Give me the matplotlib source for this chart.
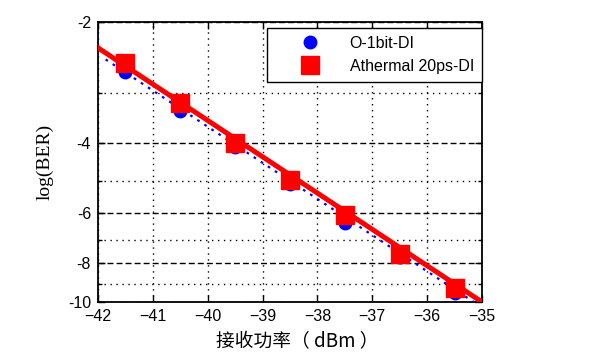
import matplotlib
matplotlib.use("Agg")
import matplotlib.pyplot as plt
import numpy as np
from matplotlib.ticker import FixedLocator, NullFormatter

# received power (dBm) and log10(BER)
power = [-41.5, -40.5, -39.5, -38.5, -37.5, -36.5, -35.5]
ber_obit = [-2.67, -3.33, -4.11, -5.08, -6.35, -7.70, -9.50]
ber_athermal = [-2.53, -3.19, -4.00, -4.97, -6.08, -7.59, -9.20]

# end points of the two fitted lines
fit_obit_x = [-41.86, -35.15]
fit_obit_y = [-2.48, -10.0]
fit_athermal_x = [-42.0, -35.0]
fit_athermal_y = [-2.32, -10.0]

x_ticks = [-42, -41, -40, -39, -38, -37, -36, -35]
y_major = [-10, -8, -6, -4, -2]
y_minor = [-9, -7, -5, -3]


def fwd(y):
    y = np.asarray(y, dtype=float)
    with np.errstate(divide="ignore", invalid="ignore"):
        return -np.log10(-y)


def inv(t):
    t = np.asarray(t, dtype=float)
    return -(10.0 ** (-t))


plt.rcParams["font.family"] = ["Liberation Sans", "DejaVu Sans"]

fig = plt.figure(figsize=(6.0, 3.58), dpi=100)
ax = fig.add_axes([0.1633, 0.1564, 0.64, 0.7821])
ax.set_yscale("function", functions=(fwd, inv))

ax.plot(power, ber_obit, "o", color="blue", markersize=9, zorder=3,
        label="O-1bit-DI")
ax.plot(fit_obit_x, fit_obit_y, color="blue", lw=1.6, linestyle=(0, (1.2, 2.6)),
        zorder=3)
ax.plot(power, ber_athermal, "s", color="red", markersize=12.5, zorder=4,
        label="Athermal 20ps-DI")
ax.plot(fit_athermal_x, fit_athermal_y, color="red", lw=3.6, zorder=4)

ax.set_xlim(-42, -35)
ax.set_ylim(-10, -2)

ax.xaxis.set_major_locator(FixedLocator(x_ticks))
ax.yaxis.set_major_locator(FixedLocator(y_major))
ax.yaxis.set_minor_locator(FixedLocator(y_minor))
ax.yaxis.set_minor_formatter(NullFormatter())
ax.set_yticklabels([str(v) for v in y_major])

ax.tick_params(which="both", direction="in", top=True, right=True,
               labelsize=11.5, length=5, width=1, pad=5)
ax.tick_params(which="minor", length=3)

ax.grid(axis="x", which="major", color="black", lw=1, linestyle=(0, (1, 3.3)))
ax.grid(axis="y", which="major", color="black", lw=1, linestyle=(0, (4.3, 2.2)))
ax.grid(axis="y", which="minor", color="black", lw=1, linestyle=(0, (1, 3.3)))
ax.set_axisbelow(True)

for spine in ax.spines.values():
    spine.set_linewidth(1.3)

ax.set_ylabel("log(BER)", family=["Liberation Serif", "DejaVu Serif"],
              fontsize=14, labelpad=10)
ax.set_xlabel("接收功率（ dBm ）", family=["Noto Sans CJK SC", "DejaVu Sans"],
              fontsize=13.5)
ax.xaxis.set_label_coords(0.52, -0.105, transform=ax.transAxes)
ax.xaxis.label.set_va("top")

leg = ax.legend(loc="upper right", bbox_to_anchor=(1.0, 0.979),
                borderaxespad=0, fontsize=11.5, numpoints=1,
                handlelength=4.4, handletextpad=0.3, borderpad=0.5,
                labelspacing=0.5, fancybox=False, framealpha=1)
leg.get_frame().set_edgecolor("black")
leg.get_frame().set_linewidth(1.0)

fig.savefig("out.png", dpi=100)
